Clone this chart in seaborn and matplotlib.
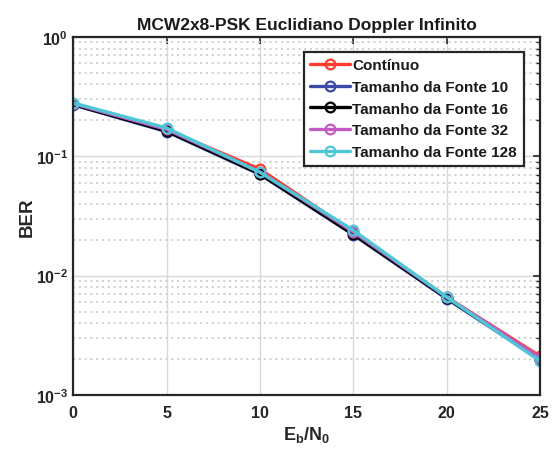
import numpy as np
import pandas as pd
import matplotlib
matplotlib.use("Agg")
import matplotlib.pyplot as plt
import seaborn as sns
from matplotlib.ticker import LogLocator, NullFormatter

# Eb/N0 (dB)
ebn0 = [0, 5, 10, 15, 20, 25]

# BER curves
ber_continuo = [0.276, 0.167, 0.078, 0.0232, 0.0066, 0.00211]
ber_fonte10 = [0.270, 0.161, 0.0705, 0.0220, 0.0064, 0.00197]
ber_fonte16 = [0.272, 0.163, 0.0712, 0.0222, 0.0065, 0.00199]
ber_fonte32 = [0.276, 0.168, 0.0740, 0.0232, 0.0066, 0.00205]
ber_fonte128 = [0.280, 0.173, 0.0734, 0.0240, 0.0066, 0.00192]

labels = ["Contínuo", "Tamanho da Fonte 10", "Tamanho da Fonte 16",
          "Tamanho da Fonte 32", "Tamanho da Fonte 128"]
colors = ["#ff3b30", "#3a4aa6", "#000000", "#c25bc0", "#4fc6d6"]

series = [ber_continuo, ber_fonte10, ber_fonte16, ber_fonte32, ber_fonte128]
df = pd.DataFrame({
    "EbN0": np.tile(ebn0, len(series)),
    "BER": np.concatenate(series),
    "curve": np.repeat(labels, len(ebn0)),
})

sns.set_theme(style="white")
plt.rcParams["font.family"] = ["Liberation Sans", "DejaVu Sans"]
plt.rcParams["font.weight"] = "bold"
plt.rcParams["mathtext.fontset"] = "custom"
plt.rcParams["mathtext.rm"] = "Liberation Sans:bold"
plt.rcParams["mathtext.it"] = "Liberation Sans:bold"
plt.rcParams["mathtext.bf"] = "Liberation Sans:bold"
plt.rcParams["mathtext.default"] = "bf"

fig = plt.figure(figsize=(5.54, 4.52), dpi=100)
ax = fig.add_axes([0.132, 0.124, 0.843, 0.792])

sns.lineplot(data=df, x="EbN0", y="BER", hue="curve", hue_order=labels,
             palette=colors, marker="o", markersize=7, markerfacecolor="none",
             markeredgewidth=1.6, linewidth=2.4, ax=ax, legend=False)
for line, c in zip(ax.get_lines(), colors):
    line.set_markeredgecolor(c)

ax.set_yscale("log")
ax.set_xlim(0, 25)
ax.set_ylim(1e-3, 1)
ax.set_xticks([0, 5, 10, 15, 20, 25])
ax.yaxis.set_major_locator(LogLocator(base=10, numticks=10))
ax.yaxis.set_minor_locator(LogLocator(base=10, subs=np.arange(2, 10), numticks=10))
ax.yaxis.set_minor_formatter(NullFormatter())

ax.grid(True, which="major", color="#d8d8d8", linestyle="-", linewidth=1.0)
ax.grid(True, which="minor", axis="y", color="#cfcfcf", linestyle=(0, (1.2, 2.0)), linewidth=1.3)
ax.set_axisbelow(True)

for s in ax.spines.values():
    s.set_visible(True)
    s.set_color("#262626")
    s.set_linewidth(1.6)
ax.tick_params(axis="both", which="both", direction="in", top=True, right=True,
               colors="#262626", labelcolor="#262626")
ax.tick_params(axis="both", which="major", length=5, width=1.2, labelsize=11.5)
ax.tick_params(axis="y", which="minor", length=3, width=1.0)
ax.tick_params(axis="x", which="major", pad=7)

ax.set_title("MCW2x8-PSK Euclidiano Doppler Infinito", fontsize=12.5,
             fontweight="bold", color="#1a1a1a", pad=6)
ax.set_xlabel(r"$\mathbf{E_b/N_0}$", fontsize=13, color="#262626", labelpad=3)
ax.set_ylabel("BER", fontsize=13.5, fontweight="bold", color="#262626", labelpad=0)

handles = [plt.Line2D([], [], color=c, marker="o", markersize=7, markerfacecolor="none",
                      markeredgecolor=c, markeredgewidth=1.6, linewidth=2.4)
           for c in colors]
leg = ax.legend(handles, labels, loc="upper right", fontsize=11, frameon=True,
                fancybox=False, borderpad=0.45, labelspacing=0.5, handlelength=2.6,
                handletextpad=0.15, borderaxespad=0.6, bbox_to_anchor=(0.985, 0.985))
leg.get_frame().set_edgecolor("#262626")
leg.get_frame().set_linewidth(1.6)
leg.get_frame().set_alpha(1)
for t in leg.get_texts():
    t.set_fontweight("bold")
    t.set_color("#1a1a1a")

fig.savefig("out.png", dpi=100)
